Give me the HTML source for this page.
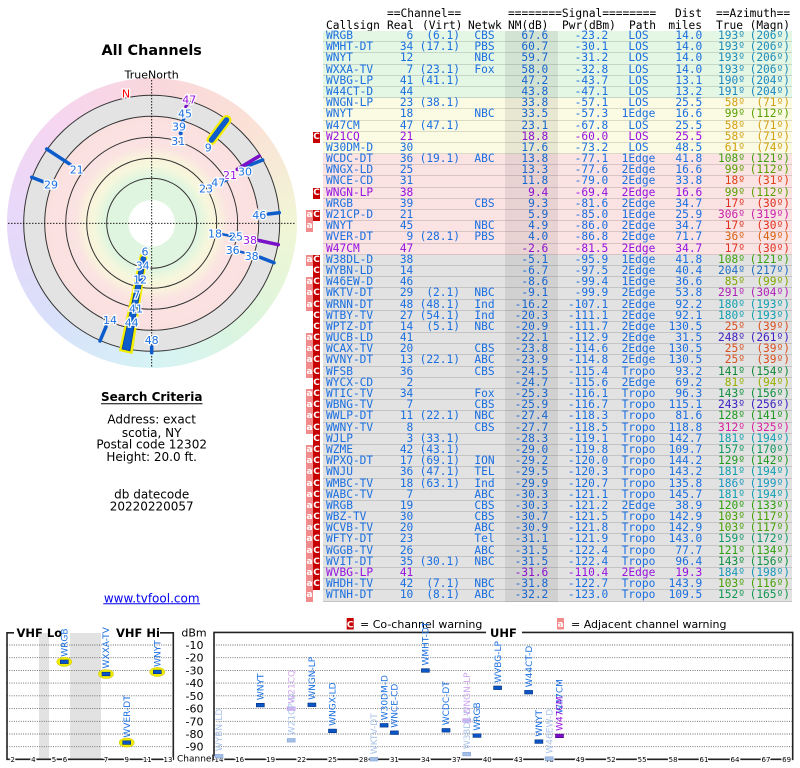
<!DOCTYPE html>
<html><head><meta charset="utf-8">
<style>
body{margin:0;width:800px;height:768px;position:relative;background:#fff;overflow:hidden;font-family:"DejaVu Sans","Liberation Sans",sans-serif}
#rb{position:absolute;left:6.7px;top:78.3px;width:290px;height:290px;border-radius:50%;
background:conic-gradient(from 0deg,#f9d7dd,#fbe1d6 45deg,#f1f6d6 90deg,#dcf5dc 135deg,#d6f3f6 180deg,#d8e0fa 225deg,#e7d8fa 270deg,#f6d6f1 315deg,#f9d7dd 360deg)}
svg{position:absolute;left:0;top:0}
.hd{position:absolute;font:11.2px/11.2px "DejaVu Sans Mono",monospace;color:#000;white-space:pre}
#tb{position:absolute;left:323px;top:31px;width:469px}
.r{position:relative;height:11.2px;box-sizing:border-box;border-bottom:1px solid rgba(0,0,0,.13);font:11.2px/10.6px "DejaVu Sans Mono","Liberation Mono",monospace;color:#1b6fe0}
.r.v{color:#9612e0}
.g{background:#e4f6e4}.y{background:#fbfbe3}.p{background:#fbe3e3}.k{background:#e2e2e2}
.r span{position:absolute;top:0;white-space:pre}
.r span:nth-of-type(1){left:3px}
.r span:nth-of-type(2){left:57px;width:33.3px;text-align:right}
.r span:nth-of-type(3){left:92px;width:45px;text-align:right}
.r span:nth-of-type(4){left:142px;width:39px;text-align:center}
.r span:nth-of-type(5){left:182px;width:43.3px;text-align:right}
.r span:nth-of-type(6){left:237px;width:48.3px;text-align:right}
.r span:nth-of-type(7){left:292px;width:47px;text-align:center}
.r span:nth-of-type(8){left:337px;width:42.3px;text-align:right}
.r span:nth-of-type(9){left:382px;width:40px;text-align:right;color:var(--z)}
.r span:nth-of-type(10){left:424px;width:43px;text-align:right;color:var(--z)}
.r i{position:absolute;top:0;height:11.2px;width:7px;font:bold 9px/11px "DejaVu Sans",sans-serif;color:#fff;text-align:center;font-style:normal}
.r i.a{left:-17px;background:#f28c8c}
.r i.c{left:-10px;background:#c60000}
#sh{position:absolute;left:505px;top:31px;width:53px;height:571px;background:rgba(0,0,0,.075)}
.pl{font-size:11px;fill:#1b6fe0;stroke:#fff;stroke-width:2.5px;paint-order:stroke;text-anchor:middle}
.pp{fill:#9612e0}
.vl{font-size:9px;fill:#1b6fe0}
.vf{fill:#a9c3ea}.vp{fill:#9612e0}.vpf{fill:#cfa6ee}
.tk{font-size:7px;text-anchor:middle;fill:#000;stroke:#fff;stroke-width:2.5px;paint-order:stroke}
.db{font-size:11px;text-anchor:end;fill:#000}
</style></head><body>
<div id="rb"></div>

<div class="hd" style="left:387px;top:8.4px">==Channel==</div>
<div class="hd" style="left:508px;top:8.4px">========Signal========</div>
<div class="hd" style="right:98px;top:8.4px">Dist</div>
<div class="hd" style="left:716px;top:8.4px">==Azimuth==</div>
<div class="hd" style="left:326px;top:19.7px">Callsign</div>
<div class="hd" style="left:387px;top:19.7px">Real</div>
<div class="hd" style="left:422px;top:19.7px">(Virt)</div>
<div class="hd" style="left:468px;top:19.7px">Netwk</div>
<div class="hd" style="left:508px;top:19.7px">NM(dB)</div>
<div class="hd" style="left:562px;top:19.7px">Pwr(dBm)</div>
<div class="hd" style="left:629px;top:19.7px">Path</div>
<div class="hd" style="right:98px;top:19.7px">miles</div>
<div class="hd" style="left:716px;top:19.7px">True</div>
<div class="hd" style="right:10px;top:19.7px">(Magn)</div>

<div id="tb">
<div class="r g" style="--z:#1e8cb8"><span>WRGB</span><span>6</span><span>(6.1)</span><span>CBS</span><span>67.6</span><span>-23.2</span><span>LOS</span><span>14.0</span><span>193º</span><span>(206º)</span></div>
<div class="r g" style="--z:#1e8cb8"><span>WMHT-DT</span><span>34</span><span>(17.1)</span><span>PBS</span><span>60.7</span><span>-30.1</span><span>LOS</span><span>14.0</span><span>193º</span><span>(206º)</span></div>
<div class="r g" style="--z:#1e8cb8"><span>WNYT</span><span>12</span><span></span><span>NBC</span><span>59.7</span><span>-31.2</span><span>LOS</span><span>14.0</span><span>193º</span><span>(206º)</span></div>
<div class="r g" style="--z:#1e8cb8"><span>WXXA-TV</span><span>7</span><span>(23.1)</span><span>Fox</span><span>58.0</span><span>-32.8</span><span>LOS</span><span>14.0</span><span>193º</span><span>(206º)</span></div>
<div class="r g" style="--z:#1e88c0"><span>WVBG-LP</span><span>41</span><span>(41.1)</span><span></span><span>47.2</span><span>-43.7</span><span>LOS</span><span>13.1</span><span>190º</span><span>(204º)</span></div>
<div class="r g" style="--z:#1e88c0"><span>W44CT-D</span><span>44</span><span></span><span></span><span>43.8</span><span>-47.1</span><span>LOS</span><span>13.2</span><span>191º</span><span>(204º)</span></div>
<div class="r y" style="--z:#d4a017"><span>WNGN-LP</span><span>23</span><span>(38.1)</span><span></span><span>33.8</span><span>-57.1</span><span>LOS</span><span>25.5</span><span>58º</span><span>(71º)</span></div>
<div class="r y" style="--z:#58a000"><span>WNYT</span><span>18</span><span></span><span>NBC</span><span>33.5</span><span>-57.3</span><span>1Edge</span><span>16.6</span><span>99º</span><span>(112º)</span></div>
<div class="r y" style="--z:#d4a017"><span>W47CM</span><span>47</span><span>(47.1)</span><span></span><span>23.1</span><span>-67.8</span><span>LOS</span><span>25.5</span><span>58º</span><span>(71º)</span></div>
<div class="r y v" style="--z:#d4a017"><i class="c">C</i><span>W21CQ</span><span>21</span><span></span><span></span><span>18.8</span><span>-60.0</span><span>LOS</span><span>25.5</span><span>58º</span><span>(71º)</span></div>
<div class="r y" style="--z:#d0a010"><span>W30DM-D</span><span>30</span><span></span><span></span><span>17.6</span><span>-73.2</span><span>LOS</span><span>48.5</span><span>61º</span><span>(74º)</span></div>
<div class="r p" style="--z:#40a010"><span>WCDC-DT</span><span>36</span><span>(19.1)</span><span>ABC</span><span>13.8</span><span>-77.1</span><span>1Edge</span><span>41.8</span><span>108º</span><span>(121º)</span></div>
<div class="r p" style="--z:#58a000"><span>WNGX-LD</span><span>25</span><span></span><span></span><span>13.3</span><span>-77.6</span><span>2Edge</span><span>16.6</span><span>99º</span><span>(112º)</span></div>
<div class="r p" style="--z:#e04018"><span>WNCE-CD</span><span>31</span><span></span><span></span><span>11.8</span><span>-79.0</span><span>2Edge</span><span>33.8</span><span>18º</span><span>(31º)</span></div>
<div class="r p v" style="--z:#58a000"><i class="c">C</i><span>WNGN-LP</span><span>38</span><span></span><span></span><span>9.4</span><span>-69.4</span><span>2Edge</span><span>16.6</span><span>99º</span><span>(112º)</span></div>
<div class="r p" style="--z:#e03020"><span>WRGB</span><span>39</span><span></span><span>CBS</span><span>9.3</span><span>-81.6</span><span>2Edge</span><span>34.7</span><span>17º</span><span>(30º)</span></div>
<div class="r p" style="--z:#c820a8"><i class="a">a</i><i class="c">C</i><span>W21CP-D</span><span>21</span><span></span><span></span><span>5.9</span><span>-85.0</span><span>1Edge</span><span>25.9</span><span>306º</span><span>(319º)</span></div>
<div class="r p" style="--z:#e03020"><i class="a">a</i><span>WNYT</span><span>45</span><span></span><span>NBC</span><span>4.9</span><span>-86.0</span><span>2Edge</span><span>34.7</span><span>17º</span><span>(30º)</span></div>
<div class="r p" style="--z:#d86010"><span>WVER-DT</span><span>9</span><span>(28.1)</span><span>PBS</span><span>4.0</span><span>-86.8</span><span>2Edge</span><span>71.7</span><span>36º</span><span>(49º)</span></div>
<div class="r p v" style="--z:#e03020"><span>W47CM</span><span>47</span><span></span><span></span><span>-2.6</span><span>-81.5</span><span>2Edge</span><span>34.7</span><span>17º</span><span>(30º)</span></div>
<div class="r k" style="--z:#40a010"><i class="a">a</i><i class="c">C</i><span>W38DL-D</span><span>38</span><span></span><span></span><span>-5.1</span><span>-95.9</span><span>1Edge</span><span>41.8</span><span>108º</span><span>(121º)</span></div>
<div class="r k" style="--z:#2070c0"><i class="c">C</i><span>WYBN-LD</span><span>14</span><span></span><span></span><span>-6.7</span><span>-97.5</span><span>2Edge</span><span>40.4</span><span>204º</span><span>(217º)</span></div>
<div class="r k" style="--z:#80a800"><i class="a">a</i><i class="c">C</i><span>W46EW-D</span><span>46</span><span></span><span></span><span>-8.6</span><span>-99.4</span><span>1Edge</span><span>36.6</span><span>85º</span><span>(99º)</span></div>
<div class="r k" style="--z:#b020b8"><i class="a">a</i><i class="c">C</i><span>WKTV-DT</span><span>29</span><span>(2.1)</span><span>NBC</span><span>-9.1</span><span>-99.9</span><span>2Edge</span><span>53.8</span><span>291º</span><span>(304º)</span></div>
<div class="r k" style="--z:#10a0b0"><i class="a">a</i><i class="c">C</i><span>WRNN-DT</span><span>48</span><span>(48.1)</span><span>Ind</span><span>-16.2</span><span>-107.1</span><span>2Edge</span><span>92.2</span><span>180º</span><span>(193º)</span></div>
<div class="r k" style="--z:#10a0b0"><i class="c">C</i><span>WTBY-TV</span><span>27</span><span>(54.1)</span><span>Ind</span><span>-20.3</span><span>-111.1</span><span>2Edge</span><span>92.1</span><span>180º</span><span>(193º)</span></div>
<div class="r k" style="--z:#d85020"><i class="c">C</i><span>WPTZ-DT</span><span>14</span><span>(5.1)</span><span>NBC</span><span>-20.9</span><span>-111.7</span><span>2Edge</span><span>130.5</span><span>25º</span><span>(39º)</span></div>
<div class="r k" style="--z:#4020c0"><i class="a">a</i><i class="c">C</i><span>WUCB-LD</span><span>41</span><span></span><span></span><span>-22.1</span><span>-112.9</span><span>2Edge</span><span>31.5</span><span>248º</span><span>(261º)</span></div>
<div class="r k" style="--z:#d85020"><i class="a">a</i><i class="c">C</i><span>WCAX-TV</span><span>20</span><span></span><span>CBS</span><span>-23.8</span><span>-114.6</span><span>2Edge</span><span>130.5</span><span>25º</span><span>(39º)</span></div>
<div class="r k" style="--z:#d85020"><i class="a">a</i><i class="c">C</i><span>WVNY-DT</span><span>13</span><span>(22.1)</span><span>ABC</span><span>-23.9</span><span>-114.8</span><span>2Edge</span><span>130.5</span><span>25º</span><span>(39º)</span></div>
<div class="r k" style="--z:#108838"><i class="a">a</i><i class="c">C</i><span>WFSB</span><span>36</span><span></span><span>CBS</span><span>-24.5</span><span>-115.4</span><span>Tropo</span><span>93.2</span><span>141º</span><span>(154º)</span></div>
<div class="r k" style="--z:#98b000"><i class="c">C</i><span>WYCX-CD</span><span>2</span><span></span><span></span><span>-24.7</span><span>-115.6</span><span>2Edge</span><span>69.2</span><span>81º</span><span>(94º)</span></div>
<div class="r k" style="--z:#109040"><i class="a">a</i><i class="c">C</i><span>WTIC-TV</span><span>34</span><span></span><span>Fox</span><span>-25.3</span><span>-116.1</span><span>Tropo</span><span>96.3</span><span>143º</span><span>(156º)</span></div>
<div class="r k" style="--z:#3820c0"><i class="a">a</i><i class="c">C</i><span>WBNG-TV</span><span>7</span><span></span><span>CBS</span><span>-25.9</span><span>-116.7</span><span>Tropo</span><span>115.1</span><span>243º</span><span>(256º)</span></div>
<div class="r k" style="--z:#209820"><i class="a">a</i><i class="c">C</i><span>WWLP-DT</span><span>11</span><span>(22.1)</span><span>NBC</span><span>-27.4</span><span>-118.3</span><span>Tropo</span><span>81.6</span><span>128º</span><span>(141º)</span></div>
<div class="r k" style="--z:#d820a0"><i class="a">a</i><i class="c">C</i><span>WWNY-TV</span><span>8</span><span></span><span>CBS</span><span>-27.7</span><span>-118.5</span><span>Tropo</span><span>118.8</span><span>312º</span><span>(325º)</span></div>
<div class="r k" style="--z:#10a0b0"><i class="c">C</i><span>WJLP</span><span>3</span><span>(33.1)</span><span></span><span>-28.3</span><span>-119.1</span><span>Tropo</span><span>142.7</span><span>181º</span><span>(194º)</span></div>
<div class="r k" style="--z:#109860"><i class="a">a</i><i class="c">C</i><span>WZME</span><span>42</span><span>(43.1)</span><span></span><span>-29.0</span><span>-119.8</span><span>Tropo</span><span>109.7</span><span>157º</span><span>(170º)</span></div>
<div class="r k" style="--z:#209820"><i class="a">a</i><i class="c">C</i><span>WPXQ-DT</span><span>17</span><span>(69.1)</span><span>ION</span><span>-29.2</span><span>-120.0</span><span>Tropo</span><span>144.2</span><span>129º</span><span>(142º)</span></div>
<div class="r k" style="--z:#10a0b0"><i class="a">a</i><i class="c">C</i><span>WNJU</span><span>36</span><span>(47.1)</span><span>TEL</span><span>-29.5</span><span>-120.3</span><span>Tropo</span><span>143.2</span><span>181º</span><span>(194º)</span></div>
<div class="r k" style="--z:#1898c0"><i class="a">a</i><i class="c">C</i><span>WMBC-TV</span><span>18</span><span>(63.1)</span><span>Ind</span><span>-29.9</span><span>-120.7</span><span>Tropo</span><span>135.8</span><span>186º</span><span>(199º)</span></div>
<div class="r k" style="--z:#10a0b0"><i class="a">a</i><i class="c">C</i><span>WABC-TV</span><span>7</span><span></span><span>ABC</span><span>-30.3</span><span>-121.1</span><span>Tropo</span><span>145.7</span><span>181º</span><span>(194º)</span></div>
<div class="r k" style="--z:#30a010"><i class="a">a</i><i class="c">C</i><span>WRGB</span><span>19</span><span></span><span>CBS</span><span>-30.3</span><span>-121.2</span><span>2Edge</span><span>38.9</span><span>120º</span><span>(133º)</span></div>
<div class="r k" style="--z:#48a008"><i class="a">a</i><i class="c">C</i><span>WBZ-TV</span><span>30</span><span></span><span>CBS</span><span>-30.7</span><span>-121.5</span><span>Tropo</span><span>142.9</span><span>103º</span><span>(117º)</span></div>
<div class="r k" style="--z:#48a008"><i class="a">a</i><i class="c">C</i><span>WCVB-TV</span><span>20</span><span></span><span>ABC</span><span>-30.9</span><span>-121.8</span><span>Tropo</span><span>142.9</span><span>103º</span><span>(117º)</span></div>
<div class="r k" style="--z:#109868"><i class="a">a</i><i class="c">C</i><span>WFTY-DT</span><span>23</span><span></span><span>Tel</span><span>-31.1</span><span>-121.9</span><span>Tropo</span><span>143.0</span><span>159º</span><span>(172º)</span></div>
<div class="r k" style="--z:#30a010"><i class="a">a</i><i class="c">C</i><span>WGGB-TV</span><span>26</span><span></span><span>ABC</span><span>-31.5</span><span>-122.4</span><span>Tropo</span><span>77.7</span><span>121º</span><span>(134º)</span></div>
<div class="r k" style="--z:#109040"><i class="a">a</i><i class="c">C</i><span>WVIT-DT</span><span>35</span><span>(30.1)</span><span>NBC</span><span>-31.5</span><span>-122.4</span><span>Tropo</span><span>96.4</span><span>143º</span><span>(156º)</span></div>
<div class="r k v" style="--z:#1898b8"><i class="a">a</i><i class="c">C</i><span>WVBG-LP</span><span>41</span><span></span><span></span><span>-31.6</span><span>-110.4</span><span>2Edge</span><span>19.3</span><span>184º</span><span>(198º)</span></div>
<div class="r k" style="--z:#48a008"><i class="a">a</i><i class="c">C</i><span>WHDH-TV</span><span>42</span><span>(7.1)</span><span>NBC</span><span>-31.8</span><span>-122.7</span><span>Tropo</span><span>143.9</span><span>103º</span><span>(116º)</span></div>
<div class="r k" style="--z:#109850"><i class="a">a</i><span>WTNH-DT</span><span>10</span><span>(8.1)</span><span>ABC</span><span>-32.2</span><span>-123.0</span><span>Tropo</span><span>109.5</span><span>152º</span><span>(165º)</span></div>
</div>
<div id="sh"></div>

<svg width="800" height="768" viewBox="0 0 800 768" xmlns="http://www.w3.org/2000/svg" font-family="DejaVu Sans, Liberation Sans, sans-serif">
<defs>
<radialGradient id="rg" gradientUnits="userSpaceOnUse" cx="151.7" cy="223.3" r="107">
<stop offset="0" stop-color="#e0f5e0"/><stop offset="0.44" stop-color="#e0f5e0"/>
<stop offset="0.54" stop-color="#f6f7dc"/><stop offset="0.62" stop-color="#f9f3dc"/>
<stop offset="0.72" stop-color="#fbe3e2"/><stop offset="1" stop-color="#fbe0e0"/>
</radialGradient>
</defs>
<!-- titles -->
<text x="151.7" y="55.2" text-anchor="middle" font-weight="bold" font-size="14.4">All Channels</text>
<text x="151.7" y="78.3" text-anchor="middle" font-size="11">TrueNorth</text>
<!-- polar rings -->
<g stroke="#333" stroke-width="1">
<circle cx="151.7" cy="223.3" r="128" fill="#e3e3e3"/>
<circle cx="151.7" cy="223.3" r="107" fill="url(#rg)"/>
<circle cx="151.7" cy="223.3" r="86" fill="none"/>
<circle cx="151.7" cy="223.3" r="65" fill="none"/>
<circle cx="151.7" cy="223.3" r="45" fill="none"/>
</g>
<circle cx="151.7" cy="223.3" r="23.3" fill="#fff"/>
<g stroke="#000" stroke-width="0.9" stroke-dasharray="1.5 1.5">
<line x1="8" y1="223.3" x2="296" y2="223.3"/>
<line x1="151.7" y1="80" x2="151.7" y2="367"/>
</g>
<!-- polar bars -->
<g stroke-linecap="round">
<polygon points="140,254 147.5,256.5 132.5,354 119,351" fill="#f2ee00"/>
<polygon points="141.5,258 145.5,259.5 130,351 122,349" fill="#0d5ccc" stroke="#062f7a" stroke-width="0.6"/>
<circle cx="143.3" cy="259" r="3" fill="#0d5ccc"/>
<line x1="211.5" y1="140" x2="226.5" y2="120" stroke="#f2ee00" stroke-width="10"/>
<line x1="211.5" y1="140" x2="226.5" y2="120" stroke="#0d5ccc" stroke-width="5.5"/>
<g stroke="#0d5ccc" stroke-width="3.5">
<line x1="46.7" y1="149" x2="70" y2="164.3"/>
<line x1="31.7" y1="177.3" x2="43.3" y2="181.7"/>
<line x1="247.3" y1="166" x2="262.7" y2="160"/>
<line x1="268.3" y1="214" x2="279.3" y2="212.7"/>
<line x1="260" y1="257.3" x2="274" y2="262.7"/>
<line x1="106" y1="326.7" x2="100" y2="341"/>
<line x1="151.7" y1="346.7" x2="151.7" y2="352.7"/>
<line x1="182.7" y1="121" x2="184.3" y2="117.7" stroke-width="3"/>
<line x1="181.3" y1="129" x2="182" y2="127.5" stroke-width="3"/>
<line x1="221" y1="234" x2="236" y2="237" stroke-width="2.5"/>
<line x1="240" y1="251.7" x2="246.7" y2="253.3" stroke-width="2.5"/>
<line x1="224" y1="181.5" x2="228" y2="179.5" stroke-width="2.5"/>
</g>
<circle cx="180.7" cy="133.3" r="2" fill="#0d5ccc"/>
<g stroke="#7a10c8" stroke-width="3.5">
<line x1="237.3" y1="169.3" x2="259.3" y2="156"/>
<line x1="256.7" y1="240" x2="278.3" y2="244.7"/>
<line x1="185.7" y1="106.7" x2="188.3" y2="102.7" stroke-width="3"/>
</g>
</g>
<!-- polar labels -->
<g class="pl">
<text class="pl" x="126" y="97.3" style="fill:#f00">N</text>
<text class="pl pp" x="189.3" y="103.3">47</text>
<text class="pl" x="185" y="117.3">45</text>
<text class="pl" x="179" y="130.7">39</text>
<text class="pl" x="178.3" y="145">31</text>
<text class="pl" x="208.3" y="151.3">9</text>
<text class="pl" x="245" y="175.7">30</text>
<text class="pl pp" x="230" y="179">21</text>
<text class="pl" x="218.3" y="186.7">47</text>
<text class="pl" x="206" y="192.5">23</text>
<text class="pl" x="259.3" y="219">46</text>
<text class="pl" x="215" y="237.3">18</text>
<text class="pl" x="236" y="240.7">25</text>
<text class="pl pp" x="250" y="244">38</text>
<text class="pl" x="232.7" y="254">36</text>
<text class="pl" x="251.7" y="260">38</text>
<text class="pl" x="145" y="255.7">6</text>
<text class="pl" x="142.7" y="269.7">34</text>
<text class="pl" x="140" y="283.3">12</text>
<text class="pl" x="136.7" y="298.3">7</text>
<text class="pl" x="136" y="312.3">41</text>
<text class="pl" x="131.7" y="326.3">44</text>
<text class="pl" x="110" y="324">14</text>
<text class="pl" x="151.7" y="344">48</text>
<text class="pl" x="76.7" y="173.3">21</text>
<text class="pl" x="51" y="188.3">29</text>
</g>
<!-- search criteria -->
<g text-anchor="middle" font-size="12" fill="#000">
<text x="151.7" y="401" font-weight="bold">Search Criteria</text>
<line x1="101" y1="403.8" x2="202.5" y2="403.8" stroke="#000" stroke-width="1"/>
<text x="151.7" y="423.6">Address: exact</text>
<text x="151.7" y="436.8">scotia, NY</text>
<text x="151.7" y="448.5">Postal code 12302</text>
<text x="151.7" y="460.8">Height: 20.0 ft.</text>
<text x="151.7" y="498.5">db datecode</text>
<text x="151.7" y="510.3">20220220057</text>
<text x="151.7" y="602.3" fill="#0000ee">www.tvfool.com</text>
<line x1="103.3" y1="603.8" x2="200.1" y2="603.8" stroke="#0000ee" stroke-width="1"/>
</g>
<!-- legend -->
<rect x="346.7" y="618" width="7" height="11.5" fill="#c60000"/>
<text x="350.2" y="627.5" font-size="9" font-weight="bold" fill="#fff" text-anchor="middle">C</text>
<text x="360" y="628" font-size="11">= Co-channel warning</text>
<rect x="557" y="618" width="7" height="11.5" fill="#f28c8c"/>
<text x="560.5" y="627" font-size="9" font-weight="bold" fill="#fff" text-anchor="middle">a</text>
<text x="571" y="628" font-size="11">= Adjacent channel warning</text>
<!-- VHF chart -->
<rect x="39" y="633" width="10" height="126" fill="#e2e2e2"/>
<rect x="70" y="633" width="31" height="126" fill="#e2e2e2"/>
<g stroke="#666" stroke-width="0.9" stroke-dasharray="1 1.3">
<line x1="7" y1="645" x2="173" y2="645"/><line x1="7" y1="657.7" x2="173" y2="657.7"/>
<line x1="7" y1="670.4" x2="173" y2="670.4"/><line x1="7" y1="683.1" x2="173" y2="683.1"/>
<line x1="7" y1="695.8" x2="173" y2="695.8"/><line x1="7" y1="708.6" x2="173" y2="708.6"/>
<line x1="7" y1="721.3" x2="173" y2="721.3"/><line x1="7" y1="734" x2="173" y2="734"/>
<line x1="7" y1="746.7" x2="173" y2="746.7"/>
<line x1="214" y1="645" x2="792" y2="645"/><line x1="214" y1="657.7" x2="792" y2="657.7"/>
<line x1="214" y1="670.4" x2="792" y2="670.4"/><line x1="214" y1="683.1" x2="792" y2="683.1"/>
<line x1="214" y1="695.8" x2="792" y2="695.8"/><line x1="214" y1="708.6" x2="792" y2="708.6"/>
<line x1="214" y1="721.3" x2="792" y2="721.3"/><line x1="214" y1="734" x2="792" y2="734"/>
<line x1="214" y1="746.7" x2="792" y2="746.7"/>
</g>
<g stroke="#222" stroke-width="1.6" fill="none">
<polyline points="14,632.8 7,632.8 7,759.3 173.3,759.3 173.3,632.8 160,632.8"/>
<polyline points="486,632.4 214,632.4 214,759.3 792.7,759.3 792.7,632.4 522,632.4"/>
</g>
<text x="16.5" y="636.8" font-size="11.5" font-weight="bold">VHF Lo</text>
<text x="116" y="636.8" font-size="11.5" font-weight="bold">VHF Hi</text>
<text x="490" y="636.8" font-size="11.5" font-weight="bold">UHF</text>
<text x="194" y="636.7" font-size="11" text-anchor="middle">dBm</text>
<g class="db">
<text x="203.5" y="649">-10</text><text x="203.5" y="661.7">-20</text><text x="203.5" y="674.4">-30</text>
<text x="203.5" y="687.1">-40</text><text x="203.5" y="699.8">-50</text><text x="203.5" y="712.6">-60</text>
<text x="203.5" y="725.3">-70</text><text x="203.5" y="738">-80</text><text x="203.5" y="750.7">-90</text>
</g>
<text x="177" y="761.3" font-size="9">Channel</text>
<g class="tk">
<text x="12.7" y="761.8">2</text><text x="33.3" y="761.8">4</text><text x="54" y="761.8">5</text><text x="65" y="761.8">6</text>
<text x="106" y="761.8">7</text><text x="126.7" y="761.8">9</text><text x="147.3" y="761.8">11</text><text x="168" y="761.8">13</text>
<text x="219" y="761.8">14</text><text x="239.6" y="761.8">16</text><text x="270.6" y="761.8">19</text><text x="301.6" y="761.8">22</text>
<text x="332.5" y="761.8">25</text><text x="363.5" y="761.8">28</text><text x="394.4" y="761.8">31</text><text x="425.4" y="761.8">34</text>
<text x="456.4" y="761.8">37</text><text x="487.3" y="761.8">40</text><text x="518.3" y="761.8">43</text><text x="549.2" y="761.8">46</text>
<text x="580.2" y="761.8">49</text><text x="611.2" y="761.8">52</text><text x="642.1" y="761.8">55</text><text x="673.1" y="761.8">58</text>
<text x="704" y="761.8">61</text><text x="735" y="761.8">64</text><text x="766" y="761.8">67</text><text x="786.6" y="761.8">69</text>
</g>
<!-- VHF markers -->
<g fill="#f2ee00" stroke="#d0c800" stroke-width="0.6">
<ellipse cx="64.3" cy="661.8" rx="7.5" ry="4.5"/>
<ellipse cx="106" cy="674" rx="7.5" ry="4.5"/>
<ellipse cx="126.7" cy="742.6" rx="7.5" ry="4.5"/>
<ellipse cx="157.3" cy="671.9" rx="7.5" ry="4.5"/>
</g>
<g fill="#0a55c8" stroke="#03307a" stroke-width="0.6">
<rect x="60.3" y="660" width="8" height="3.6"/>
<rect x="102" y="672.2" width="8" height="3.6"/>
<rect x="122.7" y="740.8" width="8" height="3.6"/>
<rect x="153.3" y="670.1" width="8" height="3.6"/>
</g>
<g class="vl">
<text transform="translate(67.5,656.8) rotate(-90)">WRGB</text>
<text transform="translate(109.2,668.5) rotate(-90)">WXXA-TV</text>
<text transform="translate(129.9,737.6) rotate(-90)">WVER-DT</text>
<text transform="translate(160.5,666.9) rotate(-90)">WNYT</text>
</g>
<!-- UHF markers faded -->
<g fill="#a3bfe8" stroke="#86a6d8" stroke-width="0.6">
<rect x="215" y="754.4" width="8" height="3.6"/>
<rect x="287.2" y="738.5" width="8" height="3.6"/>
<rect x="369.8" y="757.4" width="8" height="3.6"/>
<rect x="462.7" y="752.3" width="8" height="3.6"/>
<rect x="545.2" y="756.8" width="8" height="3.6"/>
</g>
<g fill="#d4b2f0" stroke="#c09ae6" stroke-width="0.6">
<rect x="287.2" y="706.8" width="8" height="3.6"/>
<rect x="462.7" y="718.7" width="8" height="3.6"/>
</g>
<g fill="#0a55c8" stroke="#03307a" stroke-width="0.6">
<rect x="256.3" y="703.3" width="8" height="3.6"/>
<rect x="307.9" y="703" width="8" height="3.6"/>
<rect x="328.5" y="729.1" width="8" height="3.6"/>
<rect x="380.1" y="723.5" width="8" height="3.6"/>
<rect x="390.4" y="730.9" width="8" height="3.6"/>
<rect x="421.4" y="668.7" width="8" height="3.6"/>
<rect x="442" y="728.5" width="8" height="3.6"/>
<rect x="473" y="733.8" width="8" height="3.6"/>
<rect x="493.6" y="686" width="8" height="3.6"/>
<rect x="524.6" y="690.4" width="8" height="3.6"/>
<rect x="534.9" y="739.8" width="8" height="3.6"/>
</g>
<rect x="555.5" y="734.1" width="8" height="3.6" fill="#7a10c8" stroke="#4a0080" stroke-width="0.6"/>
<!-- UHF labels -->
<g class="vl">
<text class="vl vf" transform="translate(222.2,751.2) rotate(-90)">WYBN-LD</text>
<text transform="translate(263.5,700.1) rotate(-90)">WNYT</text>
<text class="vl vf" transform="translate(294.4,735.3) rotate(-90)">W21CP-D</text>
<text class="vl vpf" transform="translate(294.4,703.6) rotate(-90)">W21CQ</text>
<text transform="translate(315.1,699.8) rotate(-90)">WNGN-LP</text>
<text transform="translate(335.7,725.9) rotate(-90)">WNGX-LD</text>
<text class="vl vf" transform="translate(377,754.2) rotate(-90)">WKTV-DT</text>
<text transform="translate(387.3,720.3) rotate(-90)">W30DM-D</text>
<text transform="translate(397.6,727.7) rotate(-90)">WNCE-CD</text>
<text transform="translate(428.6,665.5) rotate(-90)">WMHT-DT</text>
<text transform="translate(449.2,725.3) rotate(-90)">WCDC-DT</text>
<text class="vl vf" transform="translate(469.9,749.1) rotate(-90)">W38DL-D</text>
<text class="vl vpf" transform="translate(469.9,715.5) rotate(-90)">WNGN-LP</text>
<text transform="translate(480.2,730.6) rotate(-90)">WRGB</text>
<text transform="translate(500.8,682.8) rotate(-90)">WVBG-LP</text>
<text transform="translate(531.8,687.2) rotate(-90)">W44CT-D</text>
<text transform="translate(542.1,736.6) rotate(-90)">WNYT</text>
<text class="vl vf" transform="translate(552.4,753.6) rotate(-90)">W46EW-D</text>
<text transform="translate(562.7,713.5) rotate(-90)">W47CM</text>
<text class="vl vp" transform="translate(562.7,730.9) rotate(-90)">W47CM</text>
</g>
</svg>
</body></html>
